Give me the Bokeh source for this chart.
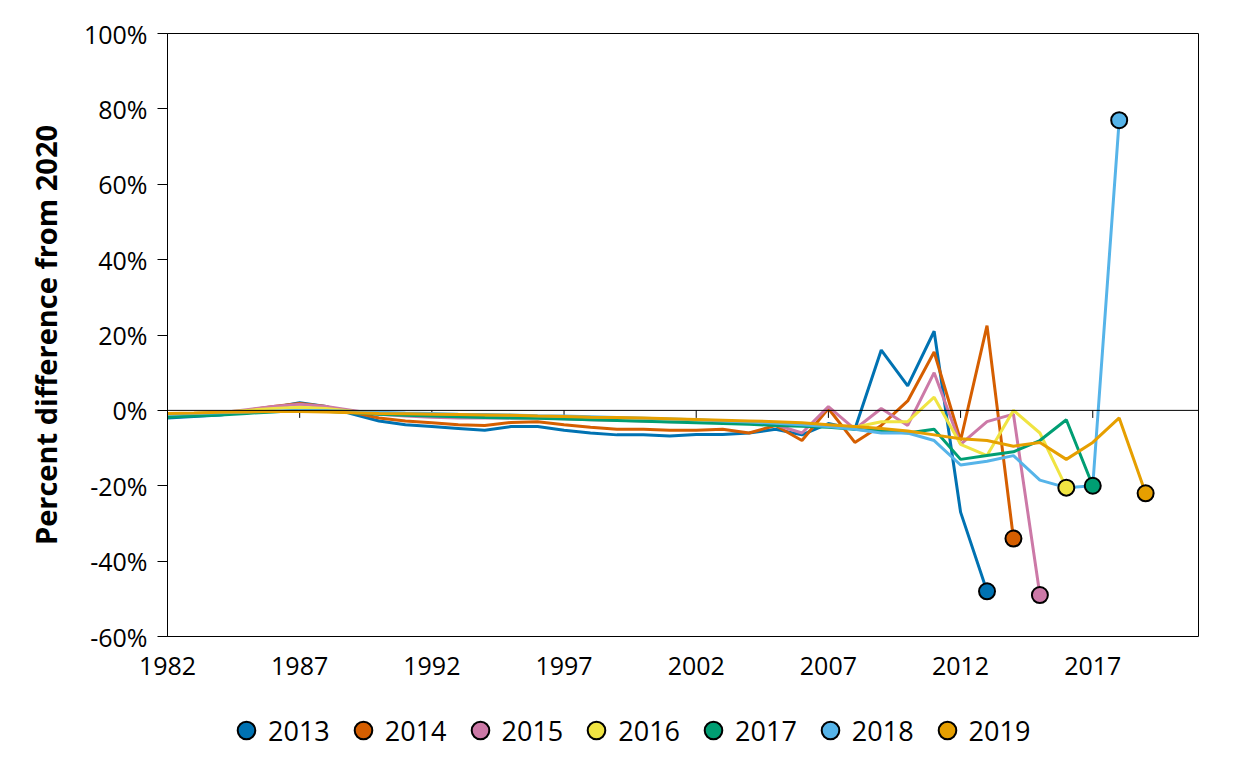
from bokeh.plotting import figure
from bokeh.layouts import column
from bokeh.models import Legend, LegendItem, FixedTicker, PrintfTickFormatter, Span, Range1d, ColumnDataSource
from bokeh.embed import file_html
from bokeh.resources import INLINE

start_year = 1982
series_names = ["2013", "2014", "2015", "2016", "2017", "2018", "2019"]
colors = ["#0072B2", "#D55E00", "#CC79A7", "#F0E442", "#009E73", "#56B4E9", "#E69F00"]

y2013 = [-2.0, -1.6, -1.2, -0.3, 0.8, 2.0, 1.0, -1.0,
         -2.8, -3.8, -4.3, -4.8, -5.3, -4.3, -4.3, -5.3,
         -6.0, -6.5, -6.5, -6.8, -6.4, -6.4, -6.0, -5.0,
         -6.5, -3.5, -5.0, 16.0, 6.5, 21.0, -27.0, -48.0]
y2014 = [-1.5, -1.2, -0.8, 0.0, 1.0, 1.8, 1.0, -0.5,
         -2.0, -2.8, -3.3, -3.8, -4.0, -3.2, -3.0, -3.8,
         -4.5, -5.0, -5.0, -5.3, -5.3, -5.0, -6.0, -4.0,
         -8.0, 0.5, -8.5, -4.0, 2.5, 15.5, -8.0, 22.5, -34.0]
y2015 = [-1.2, -1.0, -0.6, 0.2, 1.0, 1.6, 1.0, 0.0,
         -1.0, -1.5, -1.8, -2.0, -2.0, -2.0, -2.0, -2.2,
         -2.5, -2.6, -2.8, -3.0, -3.0, -3.2, -3.5, -3.8,
         -6.0, 1.0, -5.0, 0.5, -4.0, 10.0, -9.0, -3.0, -1.0, -49.0]
y2016 = [-1.0, -0.8, -0.5, 0.0, 0.5, 0.8, 0.5, -0.2,
         -0.8, -1.0, -1.2, -1.3, -1.4, -1.5, -1.6, -1.8,
         -2.0, -2.1, -2.3, -2.5, -2.7, -2.9, -3.1, -3.3,
         -3.6, -4.0, -4.5, -3.0, -3.0, 3.5, -9.0, -12.0, 0.0, -6.0, -20.5]
y2017 = [-1.8, -1.5, -1.2, -0.8, -0.4, 0.0, -0.2, -0.6,
         -1.0, -1.3, -1.5, -1.7, -1.9, -2.0, -2.1, -2.3,
         -2.5, -2.7, -2.9, -3.1, -3.3, -3.5, -3.7, -4.0,
         -4.2, -4.5, -5.0, -5.5, -6.0, -5.0, -13.0, -12.0, -11.0, -8.0, -2.5, -20.0]
y2018 = [-1.0, -0.8, -0.6, -0.4, -0.2, 0.0, -0.1, -0.3,
         -0.5, -0.7, -0.8, -1.0, -1.1, -1.2, -1.4, -1.5,
         -1.7, -1.9, -2.1, -2.3, -2.5, -2.8, -3.1, -3.4,
         -3.8, -4.3, -5.0, -6.0, -6.0, -8.0, -14.5, -13.5, -12.0, -18.5, -20.5, -20.0, 77.0]
y2019 = [-0.8, -0.7, -0.5, -0.4, -0.3, -0.3, -0.4, -0.6,
         -0.8, -0.9, -1.0, -1.1, -1.2, -1.3, -1.5, -1.6,
         -1.8, -1.9, -2.0, -2.2, -2.4, -2.6, -2.8, -3.0,
         -3.3, -3.8, -4.3, -4.8, -5.5, -6.5, -7.5, -8.0, -9.5, -8.5, -13.0, -8.5, -2.0, -22.0]

x_ticks = [1982, 1987, 1992, 1997, 2002, 2007, 2012, 2017]
y_ticks = [-60, -40, -20, 0, 20, 40, 60, 80, 100]

all_series = [y2013, y2014, y2015, y2016, y2017, y2018, y2019]

FONT = "Open Sans"

p = figure(width=1256, height=690, output_backend="svg", toolbar_location=None,
           x_range=Range1d(1982, 2021), y_range=Range1d(-60, 100),
           min_border_left=167, min_border_right=58, min_border_top=33, min_border_bottom=54)
p.background_fill_color = "white"
p.border_fill_color = "white"
p.outline_line_color = "black"
p.outline_line_width = 1
p.xgrid.visible = False
p.ygrid.visible = False

# y axis
p.yaxis.ticker = FixedTicker(ticks=y_ticks)
p.yaxis.formatter = PrintfTickFormatter(format="%d%%")
p.yaxis.major_tick_out = 10
p.yaxis.major_tick_in = 0
p.yaxis.minor_tick_line_color = None
p.yaxis.axis_line_color = "black"
p.yaxis.major_tick_line_color = "black"
p.yaxis.major_label_text_font = FONT
p.yaxis.major_label_text_font_size = "25px"
p.yaxis.major_label_text_color = "black"
p.yaxis.major_label_standoff = 10
p.yaxis.axis_label = "Percent difference from 2020"
p.yaxis.axis_label_text_font = FONT
p.yaxis.axis_label_text_font_size = "29px"
p.yaxis.axis_label_text_font_style = "bold"
p.yaxis.axis_label_text_color = "black"
p.yaxis.axis_label_standoff = 16

# x axis: labels at bottom, ticks drawn at the zero line
p.xaxis.ticker = FixedTicker(ticks=x_ticks)
p.xaxis.major_tick_line_color = None
p.xaxis.minor_tick_line_color = None
p.xaxis.axis_line_color = None
p.xaxis.major_label_text_font = FONT
p.xaxis.major_label_text_font_size = "25px"
p.xaxis.major_label_text_color = "black"
p.xaxis.major_label_standoff = 14

p.add_layout(Span(location=0, dimension="width", line_color="black", line_width=1))
p.segment(x0=x_ticks, y0=[0] * len(x_ticks), x1=x_ticks, y1=[-2] * len(x_ticks),
          line_color="black", line_width=1)

for name, col, ys in zip(series_names, colors, all_series):
    xs = list(range(start_year, start_year + len(ys)))
    p.line(xs, ys, line_color=col, line_width=3)

for name, col, ys in zip(series_names, colors, all_series):
    xs = list(range(start_year, start_year + len(ys)))
    src = ColumnDataSource(data=dict(x=[xs[-1]], y=[ys[-1]]))
    p.scatter("x", "y", source=src, size=16, fill_color=col, line_color="black", line_width=2)

# legend strip below the chart (its markers sit outside its empty view)
lf = figure(width=1256, height=79, output_backend="svg", toolbar_location=None,
            x_axis_type=None, y_axis_type=None,
            x_range=Range1d(0, 1), y_range=Range1d(0, 1),
            min_border_left=0, min_border_right=0, min_border_top=0, min_border_bottom=0)
lf.outline_line_color = None
lf.background_fill_color = "white"
lf.border_fill_color = "white"
items = []
for name, col, ys in zip(series_names, colors, all_series):
    xs = list(range(start_year, start_year + len(ys)))
    r = lf.scatter(x=[xs[-1]], y=[ys[-1]], size=16, fill_color=col, line_color="black", line_width=2)
    items.append(LegendItem(label=name, renderers=[r]))

legend = Legend(items=items, orientation="horizontal", location=(57, 17),
                label_text_font=FONT, label_text_font_size="27px", label_text_color="black",
                glyph_width=44, glyph_height=44, label_standoff=0, spacing=11,
                padding=0, margin=0, border_line_color=None, background_fill_alpha=0)
lf.add_layout(legend)

layout = column(p, lf, spacing=0)
open("out.html", "w").write(file_html(layout, INLINE))
